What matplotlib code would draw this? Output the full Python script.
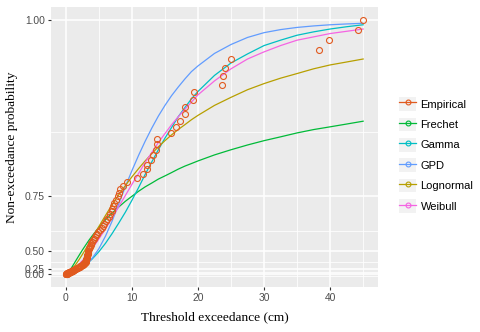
import numpy as np
import matplotlib
matplotlib.use("Agg")
import matplotlib.pyplot as plt
from matplotlib.lines import Line2D
from matplotlib.patches import Rectangle
from matplotlib.legend_handler import HandlerLine2D

# observed threshold exceedances (cm), sorted
exceedance = [
    0.02, 0.05, 0.08, 0.10, 0.12, 0.16, 0.20, 0.24, 0.28, 0.33,
    0.38, 0.44, 0.50, 0.55, 0.60, 0.66, 0.72, 0.80, 0.87, 0.94,
    1.01, 1.08, 1.15, 1.22, 1.30, 1.37, 1.44, 1.52, 1.62, 1.73,
    1.85, 1.96, 2.07, 2.18, 2.30, 2.42, 2.53, 2.63, 2.72, 2.80,
    2.88, 2.94, 3.00, 3.04, 3.07, 3.10, 3.12, 3.15, 3.18, 3.21,
    3.24, 3.27, 3.30, 3.34, 3.38, 3.42, 3.48, 3.55, 3.62, 3.70,
    3.80, 3.88, 3.96, 4.10, 4.25, 4.40, 4.58, 4.75, 4.93, 5.15,
    5.40, 5.62, 5.80, 6.02, 6.25, 6.50, 6.72, 6.92, 7.05, 7.15,
    7.35, 7.55, 7.85, 8.02, 8.25, 8.69, 9.29, 10.71, 11.61, 12.22,
    12.31, 12.82, 13.12, 13.62, 13.73, 13.82, 15.99, 16.74, 17.24, 17.99,
    18.10, 19.25, 19.40, 23.57, 23.77, 24.03, 25.04, 38.25, 39.76, 44.24,
    45.00,
]

# fitted CDFs
fit_x = [0, 0.25, 0.5, 0.75, 1, 1.25, 1.5, 2, 2.5, 3, 3.5, 4, 5, 6, 7, 8, 9,
         10, 11, 12, 13, 14, 15, 16, 17, 18, 19, 20, 22.5, 25, 27.5, 30, 32.5,
         35, 37.5, 40, 42.5, 45]
frechet = [0, .064, .165, .245, .307, .357, .398, .461, .509, .546, .577, .602,
           .642, .673, .697, .717, .734, .748, .761, .772, .781, .790, .797,
           .804, .811, .817, .822, .827, .838, .847, .855, .862, .868, .874,
           .879, .883, .887, .891]
gamma = [0, .040, .075, .106, .135, .163, .190, .245, .295, .340, .383, .422,
         .495, .558, .613, .660, .700, .737, .770, .800, .825, .847, .866,
         .882, .897, .909, .920, .929, .947, .960, .969, .977, .982, .9865,
         .9895, .992, .994, .9957]
gpd = [0, .025, .050, .080, .110, .135, .160, .215, .270, .325, .378, .430,
       .520, .600, .668, .726, .772, .808, .837, .861, .881, .898, .912, .924,
       .934, .943, .951, .957, .9695, .978, .9845, .9888, .9915, .9934, .9947,
       .9957, .9964, .997]
lognormal = [0, .058, .131, .196, .251, .300, .342, .413, .470, .517, .557,
             .591, .646, .689, .724, .752, .775, .795, .812, .827, .840, .852,
             .862, .871, .879, .886, .893, .899, .912, .922, .931, .938, .944,
             .949, .954, .958, .961, .964]
weibull = [0, .081, .135, .181, .221, .257, .290, .349, .400, .445, .485, .521,
           .584, .636, .680, .718, .750, .778, .802, .824, .842, .859, .873,
           .886, .897, .907, .916, .925, .941, .954, .964, .971, .977, .982,
           .985, .988, .990, .992]

labels = ["Empirical", "Frechet", "Gamma", "GPD", "Lognormal", "Weibull"]
colours = ["#E15A1F", "#00BA38", "#00BFC4", "#619CFF", "#B79F00", "#F564E3"]

LN100 = np.log(100.0)


def fwd(p):
    p = np.asarray(p, dtype=float)
    return np.where(p >= 0, np.power(100.0, p), 1.0 + p * LN100)


def inv(t):
    t = np.asarray(t, dtype=float)
    return np.where(t >= 1, np.log(np.maximum(t, 1.0)) / LN100, (t - 1.0) / LN100)


class KeyHandler(HandlerLine2D):
    def create_artists(self, legend, orig_handle, xdescent, ydescent,
                       width, height, fontsize, trans):
        arts = super().create_artists(legend, orig_handle, xdescent, ydescent,
                                      width, height, fontsize, trans)
        bg = Rectangle((-xdescent, -ydescent), width, height, transform=trans,
                       facecolor="#F2F2F2", edgecolor="none")
        return [bg] + list(arts)


n = len(exceedance)
ecdf = np.arange(1, n + 1) / n

fig = plt.figure(figsize=(4.8, 3.32), dpi=100)
ax = fig.add_axes([51 / 480, 1 - 287 / 332, 327 / 480, 280 / 332])
ax.set_facecolor("#EBEBEB")
ax.set_yscale("function", functions=(fwd, inv))

fits = [frechet, gamma, gpd, lognormal, weibull]
for vals, col in zip(fits, colours[1:]):
    ax.plot(fit_x, vals, color=col, lw=0.9, zorder=3)
ax.plot(exceedance, ecdf, ls="none", marker="o", mfc="none", mec=colours[0],
        ms=4.3, mew=0.8, zorder=4)

ax.set_xlim(-2.25, 47.25)
ax.set_ylim(float(inv(-3.95)), float(inv(104.95)))
ax.set_xticks([0, 10, 20, 30, 40])
ax.set_xticks([5, 15, 25, 35, 45], minor=True)
ax.set_yticks([0, .25, .5, .75, 1.0])
ax.set_yticklabels(["0.00", "0.25", "0.50", "0.75", "1.00"])
ax.set_yticks([-.125, .125, .375, .625, .875], minor=True)
ax.set_axisbelow(True)
ax.grid(which="major", color="white", lw=1.1)
ax.grid(which="minor", color="white", lw=0.55)
for s in ax.spines.values():
    s.set_visible(False)
ax.tick_params(which="major", length=2.5, width=0.8, color="#333333",
               labelcolor="#4D4D4D", labelsize=7.4, pad=2)
ax.tick_params(which="minor", length=0)
for lab in ax.get_xticklabels() + ax.get_yticklabels():
    lab.set_family(["Liberation Sans", "DejaVu Sans"])

ax.set_xlabel("Threshold exceedance (cm)", family="Liberation Serif",
              fontsize=9.6, labelpad=6)
ax.set_ylabel("Non-exceedance probability", family="Liberation Serif",
              fontsize=9.6, labelpad=5)

handles = [Line2D([], [], color=c, lw=0.9, marker="o", mfc="none", ms=3.5,
                  mew=0.8) for c in colours]
fig.legend(handles, labels, loc="center left", bbox_to_anchor=(0.82, 0.533),
           frameon=False, numpoints=1, handlelength=1.55, handleheight=1.5,
           handletextpad=0.38, labelspacing=0.62, borderpad=0,
           prop={"family": ["Liberation Sans", "DejaVu Sans"], "size": 8},
           handler_map={Line2D: KeyHandler()})

fig.savefig("out.png", dpi=100)
